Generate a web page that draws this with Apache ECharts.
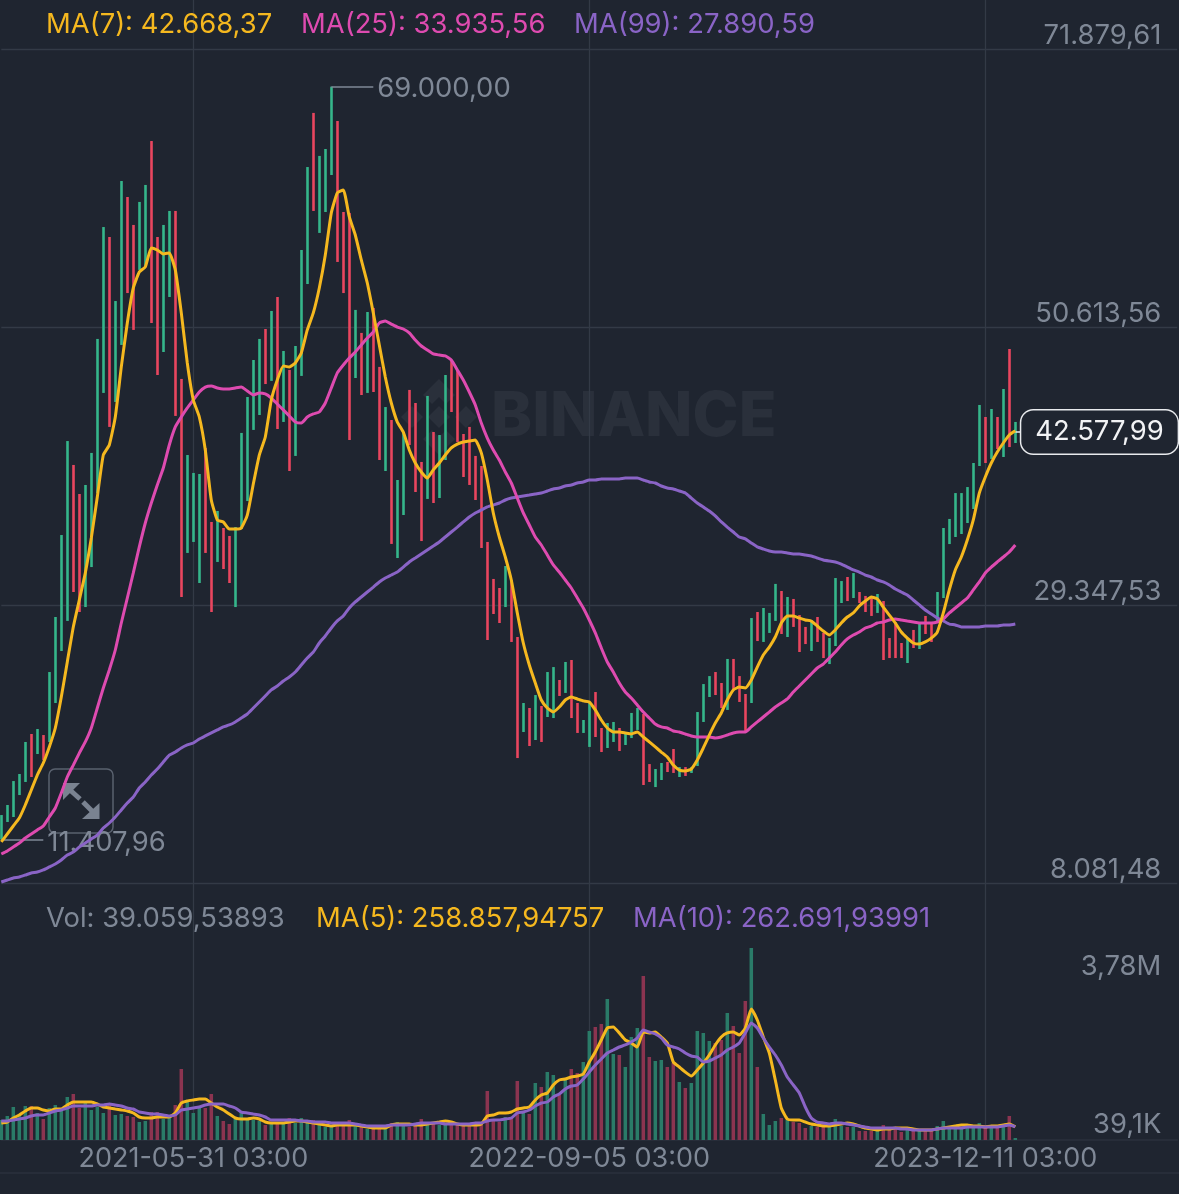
<!DOCTYPE html>
<html><head><meta charset="utf-8">
<style>html,body{margin:0;padding:0;background:#1f2530}#c{width:1179px;height:1194px}</style>
<script src="https://cdn.jsdelivr.net/npm/echarts@6/dist/echarts.min.js"></script>
</head><body><div id="c"></div>
<script>
const firstOpen = 11520;
const closes = [
12900,13820,15580,16110,18410,18100,19400,18940,23610,27820,
33940,38910,34320,32790,37380,39680,48855,55740,50390,51530,
60330,56505,55590,58040,59950,54210,49620,57270,58650,45800,
35850,38150,38760,39220,35470,32790,35090,33940,32790,35240,
41205,43880,46560,48855,47330,50390,45030,47330,43500,47710,
55360,61480,61100,62240,63390,66070,59180,54210,47330,49620,
46940,50390,47330,42740,43120,37380,38150,43120,41970,39680,
37760,42200,39680,41590,45800,44650,42280,40440,39680,38530,
34020,30880,30110,29500,31110,27050,20550,21160,19790,21320,
20860,22850,23460,22850,24220,21700,19940,20240,21160,19790,
18640,19790,20090,18870,19170,20400,21010,16720,16270,16570,
17180,17030,16720,16880,16720,16950,20550,22460,23460,23000,
22080,24530,23460,22690,21700,27820,27280,27590,28350,30110,
27820,29350,28350,26670,26520,27590,26980,25905,26520,30500,
30880,30110,30270,29730,29270,28970,29500,26290,25750,25600,
25450,26290,26130,27970,27890,27820,30040,34710,35470,37000,
37380,37760,39680,43120,41590,43120,41970,44650,42350,42577.99];
const highs = [
13280,14050,15880,16420,18870,19480,19860,19400,24220,28430,
34700,41890,40060,37840,38530,40980,49700,58260,57500,52600,
61780,60560,58420,60180,61480,64840,57500,58420,59490,59490,
46640,40820,39450,39370,41360,35700,36540,35240,34630,35310,
42510,45260,48090,49700,50460,51840,52910,48780,47330,49160,
56505,62850,66990,63700,64230,69000,66370,59410,59340,51920,
50160,51760,52070,47560,44490,43500,38910,42510,45800,44800,
40290,45340,42580,42350,46940,48090,47330,42430,42970,40750,
39980,34170,31340,30650,32330,31260,26900,21850,21470,22460,
21620,24220,24600,23610,24990,25140,21850,20550,21930,22690,
19940,20320,20400,19940,19560,21090,21470,21010,17180,16800,
17260,17340,18330,16950,16950,16950,21160,23300,23910,24220,
23380,25220,25220,23910,22540,28350,28810,29120,28740,30960,
30420,29960,29810,28580,27670,28200,28430,27210,26820,31410,
31180,31490,31790,30340,30040,29960,30190,29650,26820,28050,
26440,26820,27440,27970,28510,27970,30340,35240,35930,37910,
37910,38370,40210,44650,43730,44340,43730,45870,48930,43350];
const lows = [
11407.96,12750,13130,14810,15810,16190,17950,17490,18870,21850,
25830,28130,30340,28810,29190,32250,37910,45570,42970,44880,
49240,53210,50390,54980,55210,50920,46940,48700,52910,43810,
29960,33330,34170,31030,33330,28810,32640,32100,31030,29190,
35160,37300,42740,43880,46250,46490,42810,43350,39600,40750,
46870,53900,59490,57810,59410,62240,55590,53210,41970,46710,
45410,45570,45640,40440,39600,34020,32940,36230,41590,37990,
34240,37460,37150,37530,40440,44110,41820,39140,38530,37380,
33710,26670,28660,27970,29190,26520,17640,19630,18560,19020,
18870,20780,20700,22390,22620,20700,19560,19560,18490,19250,
18100,18410,18870,18180,18640,19170,19790,15580,15810,15420,
15960,16570,16500,16190,16270,16500,17030,20400,22310,22460,
21470,21320,22850,21930,19630,21850,26590,26520,27210,28130,
27130,26900,27670,25750,26360,25830,26520,25290,24830,26210,
29500,29650,29880,29500,28810,28510,28740,25140,25290,25290,
25290,24910,26060,25980,27130,26520,27970,29880,34010,34550,
34780,35620,36690,39980,40210,40520,41280,40670,41430,41740];
const ma7 = [
11220,11830,12440,13050,14050,15200,16340,17260,18490,19940,
22310,24990,27670,29730,31800,34470,37610,40820,41590,43730,
47560,50920,53600,54820,55210,56660,56505,56200,56280,54980,
51690,47860,45030,43730,41205,37380,35850,35700,35160,35160,
35240,36230,38600,40820,42200,45030,46560,47630,47560,47860,
48630,50390,51690,53600,56120,59340,60870,61100,59030,57650,
55740,53980,51690,49240,46790,44800,43350,42580,41205,40210,
39520,39060,39680,40210,40820,41360,41660,41820,41890,41970,
40980,38910,36390,34550,33020,31260,28740,26440,24760,23380,
22080,21470,21160,21540,22080,22310,22160,22010,21930,21320,
20550,19940,19630,19630,19560,19480,19630,19250,18870,18490,
18100,17720,17100,16720,16650,16800,17490,18410,19400,20320,
21090,22080,22850,23070,23000,23610,24600,25520,26130,26900,
27970,28510,28510,28350,28200,28120,27740,27360,27050,27440,
27970,28430,28740,29270,29650,29960,29810,29190,28580,27970,
27280,26820,26440,26360,26520,26820,27280,28740,30500,32030,
33020,34320,35850,37910,39140,40210,41050,41740,42350,42668.37];
const ma25 = [
10300,10530,10830,11140,11520,11830,12140,12440,13130,13820,
14960,16190,17100,18020,18870,19940,21470,23000,24380,25905,
27970,29880,31800,33790,35620,37150,38530,39830,41590,42970,
43730,44420,45030,45640,46020,46100,45950,45870,45870,45950,
46020,45720,45410,45570,45490,45180,44720,44270,43810,43350,
43270,43730,43960,44110,44800,45950,47100,47710,48240,48700,
49240,49770,50230,50920,51070,50840,50610,50460,50160,49620,
49160,48855,48550,48470,48400,48090,47330,46560,45640,44650,
43270,42120,41205,40440,39520,38680,37530,36390,35470,34550,
33940,33170,32410,31870,31260,30650,29880,29120,28200,27210,
26060,24990,24220,23380,22690,22230,21700,21160,20700,20240,
20020,19940,19710,19630,19480,19330,19250,19250,19250,19170,
19250,19400,19560,19630,19630,20020,20400,20780,21160,21540,
21850,22160,22690,23150,23610,24070,24530,24830,25290,25750,
26290,26750,27050,27280,27590,27740,27970,28050,28200,28280,
28200,28120,28050,27970,27970,27970,28050,28280,28740,29120,
29500,29880,30500,31110,31800,32250,32640,33020,33400,33935.56];
const ma99 = [
8160,8310,8460,8540,8690,8850,8920,9080,9310,9540,
9840,10220,10450,10830,11140,11450,11750,12290,12670,13130,
13670,14200,14660,15350,15810,16340,16800,17340,17870,18100,
18410,18640,18790,19100,19330,19560,19790,20020,20170,20400,
20700,21010,21470,21930,22390,22850,23150,23530,23840,24220,
24760,25290,25750,26440,26980,27590,28130,28510,29120,29580,
29960,30340,30720,31110,31410,31640,31870,32250,32640,32940,
33250,33555,33860,34170,34550,34930,35310,35700,36080,36390,
36620,36850,37000,37150,37380,37530,37610,37690,37760,37840,
37910,38070,38220,38300,38450,38530,38680,38760,38910,38910,
38990,38990,38990,38990,39060,39060,39060,38910,38760,38680,
38450,38300,38220,38070,37910,37530,37150,36840,36540,36160,
35700,35310,34930,34550,34400,34090,33790,33630,33480,33400,
33400,33330,33250,33250,33170,33100,32940,32790,32710,32640,
32480,32250,32030,31870,31640,31490,31260,31110,30880,30570,
30340,30110,29730,29350,28970,28660,28350,28130,27890,27820,
27670,27670,27670,27670,27740,27740,27740,27820,27820,27890.59];
const volumeK = [
394,473,650,492,669,669,532,413,630,689,
591,847,906,630,728,591,650,532,728,492,
512,473,453,354,374,551,551,413,453,689,
1398,788,532,630,630,906,473,374,315,413,
551,413,394,374,295,335,335,335,433,335,
433,335,394,315,256,276,335,335,394,295,
276,217,256,256,256,335,354,315,256,276,
413,354,335,295,315,295,315,295,315,354,
335,965,394,354,453,453,1162,532,512,1122,
1044,1339,1280,886,1181,1398,1319,1536,2146,2225,
2284,2776,1693,1674,1437,2028,2205,3229,1634,1556,
1575,1437,1516,1142,1024,1122,2146,2107,1949,1910,
1969,2501,2245,1713,2737,3780,1437,512,295,374,
433,394,354,335,236,276,256,335,256,413,
276,256,256,177,177,177,177,295,197,256,
158,197,177,197,197,177,276,374,256,236,
236,236,236,335,295,256,256,256,473,39.06];
const volMa5K = [
335,354,433,492,571,630,630,591,571,610,
610,689,748,748,748,748,709,650,630,610,
591,571,532,453,433,433,453,453,453,532,
728,768,788,807,807,728,650,591,512,433,
413,413,433,413,354,335,335,335,354,374,
374,354,335,315,295,276,295,295,295,295,
276,256,236,236,236,295,315,315,315,295,
295,315,335,354,374,354,315,295,295,295,
315,473,492,532,532,551,610,630,650,788,
886,925,1083,1181,1201,1240,1260,1299,1536,1733,
1969,2205,2225,2107,1969,1910,1831,2126,2107,2126,
2028,1910,1536,1437,1339,1260,1378,1516,1674,1871,
2028,2107,2126,2067,2205,2579,2363,2028,1713,1181,
630,413,394,394,354,315,295,276,276,295,
315,335,315,276,236,217,197,217,217,236,
236,236,217,197,197,197,217,236,256,276,
295,295,276,276,256,276,276,295,315,258.86];
const volMa10K = [
374,374,394,413,433,473,492,492,532,571,
591,630,669,669,669,669,689,689,709,689,
669,630,610,551,532,512,512,492,473,492,
591,610,630,650,689,709,709,709,669,630,
551,532,512,492,453,394,394,394,394,394,
374,374,354,354,354,335,335,335,335,315,
295,276,276,276,276,295,295,295,295,315,
335,335,335,335,315,315,315,315,315,335,
335,374,394,394,413,433,532,551,591,669,
728,748,847,906,1004,1063,1083,1201,1339,1477,
1595,1713,1772,1831,1871,1930,2008,2166,2126,2087,
2008,1871,1831,1792,1713,1654,1634,1536,1556,1615,
1674,1772,1831,1910,2107,2304,2205,2008,1831,1674,
1477,1240,1083,925,650,433,354,335,315,335,
335,315,295,276,256,236,236,236,236,236,
217,217,197,197,197,197,217,236,236,236,
236,256,256,256,256,256,256,276,295,262.69];
const priceTicks = [8081.48,29347.53,50613.56,71879.61];
const volTicksK = [39.06,3780];
const xTickDates = ['2021-05-31','2022-09-05','2023-12-11'];
const firstWeek = Date.UTC(2020,9,19);
const categories = Array.from({length:197},(_,i)=>new Date(firstWeek+i*7*864e5).toISOString().slice(0,10));

const n = closes.length;
const opens = closes.map((c,i)=> i===0 ? firstOpen : closes[i-1]);
const candleData = closes.map((c,i)=>[opens[i],c,lows[i],highs[i]]);
const UP='#35b68b', DOWN='#e9465f', VUP='#2a7b68', VDOWN='#8b3450';
const BG='#1f2530', GRID='#333a46', TXT='#7f8896', FONT='Inter, "Noto Sans", sans-serif';
const YEL='#f5b81f', PINK='#de4bb0', PUR='#8a64c6';
const FS=27.4;
const volData = volumeK.map((v,i)=>({value:v,itemStyle:{color:closes[i]>=opens[i]?VUP:VDOWN}}));
const fmt = (v,d=2)=>v.toLocaleString('de-DE',{minimumFractionDigits:d,maximumFractionDigits:d});
const isTick = i=> xTickDates.includes(categories[i]);
const line=(name,data,color,xi,w)=>({name,type:'line',data,xAxisIndex:xi,yAxisIndex:xi,symbol:'none',smooth:0.15,clip:false,
  lineStyle:{color,width:w},z:5,silent:true});
const txt=(x,y,t,fill)=>({type:'text',x,y,z:3,style:{text:t,fill,font:'400 '+FS+'px '+FONT,textVerticalAlign:'middle'}});
const poly=(pts,fill)=>({type:'polygon',z:-1,shape:{points:pts},style:{fill}});
const WM='#2a303b', IC='#7a8391';
const lx=439, ly=417;
const chart = echarts.init(document.getElementById('c'),null,{renderer:'canvas'});
chart.setOption({
  animation:false, backgroundColor:BG,
  grid:[{left:1.3,top:0,width:1176,height:883},{left:1.3,top:883,width:1176,height:257}],
  xAxis:[
   {type:'category',gridIndex:0,data:categories,boundaryGap:false,axisLine:{show:false},axisTick:{show:false},axisLabel:{show:false},
    splitLine:{show:true,interval:(i)=>isTick(i),lineStyle:{color:GRID,width:1.3}}},
   {type:'category',gridIndex:1,data:categories,boundaryGap:false,axisLine:{show:true,lineStyle:{color:'#2b313c',width:1.5}},axisTick:{show:false},
    splitLine:{show:true,interval:(i)=>isTick(i),lineStyle:{color:GRID,width:1.3}},
    axisLabel:{show:true,interval:(i)=>isTick(i),formatter:v=>v+' 03:00',color:TXT,fontFamily:FONT,fontSize:27,margin:5,hideOverlap:false}}
  ],
  yAxis:[
   {type:'value',gridIndex:0,position:'right',min:8081.48,max:75627.7,axisLine:{show:false},
    axisTick:{show:false,customValues:priceTicks},
    splitLine:{show:true,lineStyle:{color:GRID,width:1.3}},
    axisLabel:{show:true,inside:true,customValues:priceTicks,verticalAlign:'bottom',margin:16,color:TXT,fontFamily:FONT,fontSize:FS,formatter:v=>fmt(v)}},
   {type:'value',gridIndex:1,position:'right',min:0,max:5060,axisLine:{show:false},
    axisTick:{show:false,customValues:volTicksK},splitLine:{show:false},
    axisLabel:{show:true,inside:true,customValues:volTicksK,verticalAlign:'middle',margin:16,color:TXT,fontFamily:FONT,fontSize:FS,
      formatter:v=> v>1000?'{t|3,78M}':'{b|39,1K}',
      rich:{t:{color:TXT,fontFamily:FONT,fontSize:FS,padding:[38,0,0,0]},b:{color:TXT,fontFamily:FONT,fontSize:FS,padding:[0,0,26,0]}}}}
  ],
  series:[
   {name:'Candles',type:'candlestick',xAxisIndex:0,yAxisIndex:0,data:candleData,barWidth:0.5,clip:false,z:3,silent:true,
    itemStyle:{color:UP,color0:DOWN,borderColor:UP,borderColor0:DOWN,borderWidth:2.6},
    markLine:{silent:true,symbol:'none',animation:false,precision:2,
      lineStyle:{color:TXT,width:1.5,type:'solid'},
      data:[
       [{coord:[55,highs[55]]},{coord:[62,highs[55]],label:{show:true,position:'end',formatter:fmt(highs[55]),color:TXT,fontFamily:FONT,fontSize:FS,distance:4,offset:[0,2]}}],
       [{coord:[0,lows[0]]},{coord:[7,lows[0]],label:{show:true,position:'end',formatter:fmt(lows[0]),color:TXT,fontFamily:FONT,fontSize:FS,distance:4,offset:[0,3]}}],
       [{coord:[n-1,closes[n-1]],lineStyle:{color:'#e8eaed'}},{coord:[n,closes[n-1]],label:{show:true,position:'end',formatter:fmt(closes[n-1]),color:'#f2f3f5',fontFamily:FONT,fontSize:FS,distance:0,
         backgroundColor:BG,borderColor:'#e8eaed',borderWidth:1.5,borderRadius:12,padding:[9,14,7,14]}}]
      ]}},
   line('MA(99)',ma99,PUR,0,3),line('MA(25)',ma25,PINK,0,3),line('MA(7)',ma7,YEL,0,3),
   {name:'Vol',type:'bar',xAxisIndex:1,yAxisIndex:1,data:volData,barWidth:3.5,silent:true,z:3},
   line('Vol MA(5)',volMa5K,YEL,1,3),line('Vol MA(10)',volMa10K,PUR,1,3)
  ],
  graphic:[
   poly([[lx,ly-38],[lx+16,ly-22],[lx+7,ly-13],[lx,ly-20],[lx-7,ly-13],[lx-16,ly-22]],WM),
   poly([[lx,ly+38],[lx+16,ly+22],[lx+7,ly+13],[lx,ly+20],[lx-7,ly+13],[lx-16,ly+22]],WM),
   poly([[lx-38,ly],[lx-27,ly-11],[lx-16,ly],[lx-27,ly+11]],WM),
   poly([[lx+38,ly],[lx+27,ly-11],[lx+16,ly],[lx+27,ly+11]],WM),
   poly([[lx,ly-11],[lx+11,ly],[lx,ly+11],[lx-11,ly]],WM),
   {type:'text',x:491,y:417,z:-1,style:{text:'BINANCE',fill:WM,font:'800 62px '+FONT,textVerticalAlign:'middle'}},
   {type:'rect',z:-1,shape:{x:49,y:769,width:64,height:64,r:6},style:{fill:'transparent',stroke:'#59616e',lineWidth:1.5}},
   poly([[63,783],[80,783],[63,800]],IC),
   poly([[99.5,819],[99.5,803],[82,819]],IC),
   {type:'line',z:-1,shape:{x1:70,y1:790,x2:80,y2:799},style:{stroke:IC,lineWidth:5}},
   {type:'line',z:-1,shape:{x1:83,y1:802,x2:92,y2:811},style:{stroke:IC,lineWidth:5}},
   {type:'line',z:-1,shape:{x1:0,y1:1173,x2:1179,y2:1173},style:{stroke:'#2b313c',lineWidth:1.3}},
   txt(46,25,'MA(7): 42.668,37',YEL),txt(301,25,'MA(25): 33.935,56',PINK),txt(574,25,'MA(99): 27.890,59',PUR),
   txt(46,919,'Vol: 39.059,53893',TXT),txt(316,919,'MA(5): 258.857,94757',YEL),txt(633,919,'MA(10): 262.691,93991',PUR)
  ]
});
</script></body></html>
